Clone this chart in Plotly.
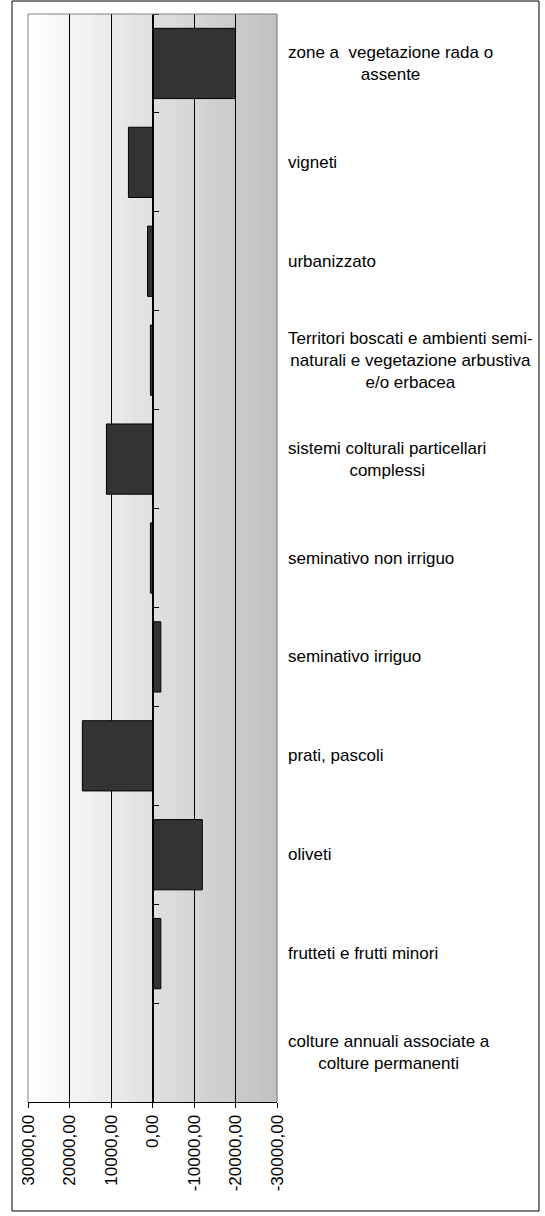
import plotly.graph_objects as go

categories = [
    "zone a vegetazione rada o assente",
    "vigneti",
    "urbanizzato",
    "Territori boscati e ambienti semi-naturali e vegetazione arbustiva e/o erbacea",
    "sistemi colturali particellari complessi",
    "seminativo non irriguo",
    "seminativo irriguo",
    "prati, pascoli",
    "oliveti",
    "frutteti e frutti minori",
    "colture annuali associate a colture permanenti",
]
label_text = [
    "zone a \u00a0vegetazione rada o<br>assente",
    "vigneti",
    "urbanizzato",
    "Territori boscati e ambienti semi-<br>naturali e vegetazione arbustiva<br>e/o erbacea",
    "sistemi colturali particellari<br>complessi",
    "seminativo non irriguo",
    "seminativo irriguo",
    "prati, pascoli",
    "oliveti",
    "frutteti e frutti minori",
    "colture annuali associate a<br>colture permanenti",
]
values = [-20000, 5800, 1200, 500, 11100, 500, -2000, 16900, -12000, -2000, 0]
tick_vals = [30000, 20000, 10000, 0, -10000, -20000, -30000]
tick_text = ["30000,00", "20000,00", "10000,00", "0,00", "-10000,00", "-20000,00", "-30000,00"]

W, H = 545, 1216
L, R, T, B = 28, 277, 14, 1102
FONT = "Liberation Sans, Arial, sans-serif"

def px_x(px):
    return (px - L) / (R - L)

def px_y(py):
    return (B - py) / (B - T)

fig = go.Figure()
fig.add_trace(go.Bar(
    x=values, y=categories, orientation="h",
    marker=dict(color="#333333", line=dict(color="#000000", width=1)),
    width=0.71, showlegend=False,
))

shapes = []
# gradient background (white -> gray), drawn below gridlines
n = 120
for i in range(n):
    t = (i + 0.5) / n
    c = int(round(255 - (255 - 192) * t))
    shapes.append(dict(type="rect", xref="paper", yref="paper",
                       x0=i / n, x1=(i + 1) / n + 0.002, y0=0, y1=1,
                       fillcolor=f"rgb({c},{c},{c})", line=dict(width=0),
                       layer="below"))
# plot-area border (gray) top/left/right
for (x0, y0, x1, y1) in [(0, 1, 1, 1), (0, 0, 0, 1), (1, 0, 1, 1)]:
    shapes.append(dict(type="line", xref="paper", yref="paper",
                       x0=x0, y0=y0, x1=x1, y1=y1,
                       line=dict(color="#808080", width=1), layer="above"))
# outer chart border
shapes.append(dict(type="rect", xref="paper", yref="paper",
                   x0=px_x(12), x1=px_x(539), y0=px_y(1211), y1=px_y(1),
                   line=dict(color="#000000", width=1), layer="above"))

annotations = []
for cat, txt in zip(categories, label_text):
    annotations.append(dict(
        x=px_x(286), xref="paper", y=cat, yref="y",
        text=txt, showarrow=False, xanchor="left", yanchor="middle",
        align="center", font=dict(family=FONT, size=17, color="#000000"),
    ))

fig.update_layout(
    width=W, height=H,
    margin=dict(l=L, r=W - R, t=T, b=H - B, pad=0),
    paper_bgcolor="#ffffff", plot_bgcolor="rgba(0,0,0,0)",
    shapes=shapes, annotations=annotations,
    font=dict(family=FONT, size=17, color="#000000"),
    bargap=0.29,
)
fig.update_xaxes(
    range=[30000, -30000], tickvals=tick_vals, ticktext=tick_text,
    tickangle=-90, showgrid=True, gridcolor="#000000", gridwidth=1,
    zeroline=False, showline=True, linecolor="#000000", linewidth=1,
    ticks="outside", ticklen=5, tickcolor="#000000",
    tickfont=dict(family=FONT, size=17, color="#000000"),
)
fig.update_yaxes(
    categoryorder="array", categoryarray=categories, autorange="reversed",
    showticklabels=False, showgrid=False, zeroline=False,
    anchor="free", position=0.5, side="right",
    showline=True, linecolor="#000000", linewidth=1,
    ticks="outside", ticklen=5, tickcolor="#000000", tickson="boundaries",
)

fig.write_html(
    "out.html",
    config={"displayModeBar": False},
    post_script="document.body.style.margin='0';document.body.style.overflow='hidden';",
)
